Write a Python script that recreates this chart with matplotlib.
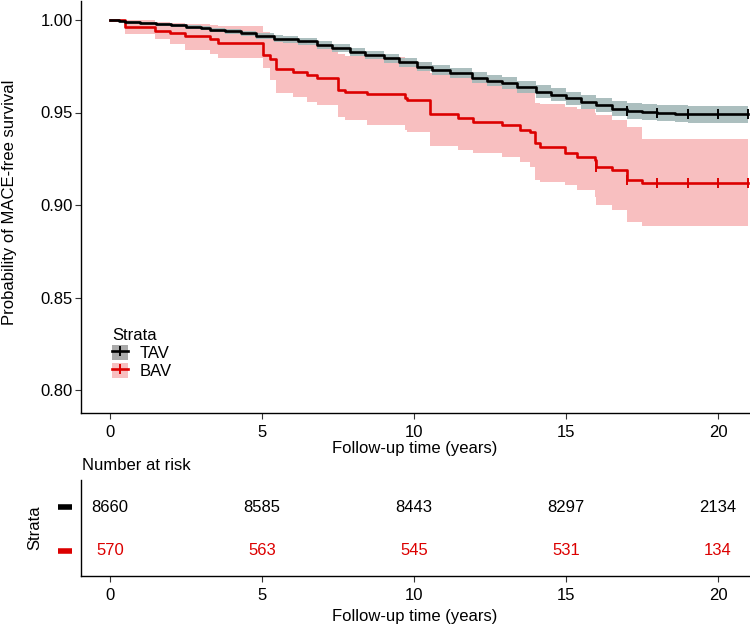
import numpy as np
import matplotlib
matplotlib.use("Agg")
import matplotlib.pyplot as plt
from matplotlib.patches import Patch
from matplotlib.lines import Line2D
from matplotlib.legend_handler import HandlerTuple
import matplotlib.transforms as mtransforms

plt.rcParams['font.family'] = ['Liberation Sans', 'DejaVu Sans']

# ---------------- data ----------------
end_time = 21.0

tav_time = [0, 0.3, 0.5, 1.0, 1.5, 2.0, 2.5, 3.0, 3.3, 3.8, 4.3, 4.8, 5.4, 5.7, 6.2, 6.8, 7.3,
            7.9, 8.4, 9.0, 9.5, 10.1, 10.6, 11.2, 11.9, 12.4, 12.9, 13.4, 14.0, 14.5, 15.0,
            15.5, 16.0, 16.5, 17.0, 17.5, 18.0, 18.6, 19.0]
tav_surv = [1.0, 0.9992, 0.9987, 0.9983, 0.9978, 0.9972, 0.9964, 0.9955, 0.9946, 0.9938, 0.9928,
            0.9915, 0.990, 0.9895, 0.9885, 0.9865, 0.9848, 0.9829, 0.9812, 0.9793, 0.9772,
            0.9748, 0.973, 0.9712, 0.9688, 0.9672, 0.9658, 0.9638, 0.9613, 0.9595, 0.9577,
            0.9558, 0.954, 0.952, 0.9508, 0.9502, 0.9498, 0.9493, 0.949]
tav_lower = [1.0, 0.9988, 0.9981, 0.9976, 0.997, 0.9963, 0.9954, 0.9944, 0.9934, 0.9925, 0.9914,
             0.99, 0.9883, 0.9877, 0.9866, 0.9845, 0.9827, 0.9807, 0.9789, 0.9769, 0.9747,
             0.9722, 0.9703, 0.9684, 0.9658, 0.9641, 0.9626, 0.9605, 0.9579, 0.956, 0.9541,
             0.9521, 0.9502, 0.948, 0.9467, 0.9459, 0.9454, 0.9448, 0.9444]
tav_upper = [1.0, 0.9996, 0.9993, 0.999, 0.9986, 0.9981, 0.9974, 0.9966, 0.9958, 0.9951, 0.9942,
             0.993, 0.9917, 0.9913, 0.9904, 0.9885, 0.9869, 0.9851, 0.9835, 0.9817, 0.9797,
             0.9774, 0.9757, 0.974, 0.9718, 0.9703, 0.969, 0.9671, 0.9647, 0.963, 0.9613,
             0.9595, 0.9578, 0.956, 0.9549, 0.9545, 0.9542, 0.9538, 0.9536]
tav_censor = [17, 18, 19, 20, 21]

bav_time = [0, 0.5, 1.48, 1.97, 2.47, 3.29, 3.55, 5.04, 5.26, 5.45, 6.01, 6.47, 6.80, 7.51, 7.73,
            8.44, 9.70, 9.76, 10.53, 11.46, 11.95, 12.88, 13.49, 13.82, 13.98, 14.14, 14.97,
            15.35, 15.95, 16.0, 16.5, 17.0, 17.49]
bav_surv = [1.0, 0.9964, 0.994, 0.9928, 0.9914, 0.9896, 0.9877, 0.981, 0.9787, 0.9733, 0.9721,
            0.9703, 0.9685, 0.9622, 0.9613, 0.960, 0.9577, 0.9568, 0.949, 0.9469, 0.945,
            0.9432, 0.9405, 0.9396, 0.9333, 0.9312, 0.928, 0.9261, 0.9243, 0.9207, 0.9189,
            0.9135, 0.912]
bav_lower = [1.0, 0.9923, 0.9896, 0.9869, 0.9838, 0.9814, 0.9793, 0.9739, 0.9676, 0.9604, 0.9586,
             0.9559, 0.954, 0.9477, 0.9459, 0.9432, 0.9405, 0.9396, 0.932, 0.9297, 0.928,
             0.9261, 0.9234, 0.9207, 0.9135, 0.9125, 0.9108, 0.9081, 0.9045, 0.900, 0.8973,
             0.891, 0.8886]
bav_upper = [1.0, 1.0, 0.9991, 0.9985, 0.998, 0.9972, 0.9966, 0.9935, 0.992, 0.9895, 0.9885,
             0.9872, 0.986, 0.9815, 0.9808, 0.9798, 0.978, 0.9773, 0.9715, 0.970, 0.968,
             0.9645, 0.9635, 0.963, 0.955, 0.9545, 0.9532, 0.952, 0.9496, 0.9485, 0.946,
             0.9423, 0.9355]
bav_censor = [16, 17, 18, 19, 20, 21]

risk_times = [0, 5, 10, 15, 20]
tav_risk = [8660, 8585, 8443, 8297, 2134]
bav_risk = [570, 563, 545, 531, 134]

strata = ["TAV", "BAV"]
y_ticks = [0.80, 0.85, 0.90, 0.95, 1.00]
x_ticks = [0, 5, 10, 15, 20]

# ---------------- styles ----------------
W, H = 750, 629
BLACK = "#000000"
RED = "#DC0000"
GREY_BAND = "#A3B8B8"
PINK_BAND = "#F8BFC0"
FS = 12

fig = plt.figure(figsize=(W / 100, H / 100), dpi=100)


def frac_box(x0, y0, x1, y1):
    return [x0 / W, 1 - y1 / H, (x1 - x0) / W, (y1 - y0) / H]


MAIN_BOTTOM = 413
ax = fig.add_axes(frac_box(81, 1, 750, MAIN_BOTTOM))
axt = fig.add_axes(frac_box(81, 480, 750, 576))


def ext(t, v):
    return np.append(np.asarray(t, float), end_time), np.append(np.asarray(v, float), v[-1])


def value_at(times, vals, q):
    idx = np.searchsorted(np.asarray(times), np.asarray(q, float), side='right') - 1
    return np.asarray(vals)[idx]


# bands
bt, bl = ext(bav_time, bav_lower)
_, bu = ext(bav_time, bav_upper)
ax.fill_between(bt, bl, bu, step='post', color=PINK_BAND, lw=0, zorder=1)
tt, tl = ext(tav_time, tav_lower)
_, tu = ext(tav_time, tav_upper)
ax.fill_between(tt, tl, tu, step='post', color=GREY_BAND, alpha=0.9, lw=0, zorder=2)

# curves
bt2, bs2 = ext(bav_time, bav_surv)
ax.plot(bt2, bs2, drawstyle='steps-post', color=RED, lw=1.9, zorder=3)
tt2, ts2 = ext(tav_time, tav_surv)
ax.plot(tt2, ts2, drawstyle='steps-post', color=BLACK, lw=1.9, zorder=4)

# censor marks
ax.plot(bav_censor, value_at(bav_time, bav_surv, bav_censor), ls='none', marker='|',
        ms=7, mew=1.4, color=RED, zorder=5, clip_on=False)
ax.plot(tav_censor, value_at(tav_time, tav_surv, tav_censor), ls='none', marker='|',
        ms=7, mew=1.4, color=BLACK, zorder=6, clip_on=False)

ax.set_xlim(-0.95, 21.05)
ax.set_ylim(1 - (MAIN_BOTTOM - 20) / 1850, 1 + 19 / 1850)
ax.set_xticks(x_ticks)
ax.set_yticks(y_ticks)
ax.set_yticklabels([f"{v:.2f}" for v in y_ticks])
ax.tick_params(labelsize=FS, length=4, width=0.8, color="#333333", pad=2)
ax.tick_params(axis='x', pad=4.5)
for s in ["top", "right"]:
    ax.spines[s].set_visible(False)
for s in ["left", "bottom"]:
    ax.spines[s].set_linewidth(1.0)

# legend
h_tav = (Patch(facecolor="#AAAAAA", edgecolor='none'),
         Line2D([], [], color=BLACK, lw=1.9, marker='|', ms=7, mew=1.4))
h_bav = (Patch(facecolor=PINK_BAND, edgecolor='none'),
         Line2D([], [], color=RED, lw=1.9, marker='|', ms=7, mew=1.4))
ax_h = MAIN_BOTTOM - 1
leg = ax.legend([h_tav, h_bav], strata, handler_map={tuple: HandlerTuple(ndivide=1, pad=0)},
                title="Strata", loc='upper left',
                bbox_to_anchor=((112 - 81) / 669, (MAIN_BOTTOM - 328) / ax_h),
                frameon=False, fontsize=FS, title_fontsize=FS, borderpad=0, borderaxespad=0,
                handlelength=0.95, handleheight=1.05, handletextpad=0.7, labelspacing=0.1)
leg._legend_box.align = "left"

# risk table
for row, (vals, col) in enumerate([(tav_risk, BLACK), (bav_risk, RED)]):
    yrow = 1 - row
    for t, v in zip(risk_times, vals):
        axt.text(t, yrow, str(v), ha='center', va='center', fontsize=FS, color=col)
    trans = mtransforms.blended_transform_factory(axt.transAxes, axt.transData)
    axt.plot([-0.034, -0.0135], [yrow, yrow], transform=trans, color=col, lw=4,
             solid_capstyle='butt', clip_on=False)

axt.set_xlim(-0.95, 21.05)
axt.set_ylim(-0.58, 1.628)
axt.set_xticks(x_ticks)
axt.set_yticks([])
axt.tick_params(labelsize=FS, length=4, width=0.8, color="#333333", pad=5)
for s in ["top", "right"]:
    axt.spines[s].set_visible(False)
for s in ["left", "bottom"]:
    axt.spines[s].set_linewidth(1.0)

# titles
fig.text(10 / W, 1 - 202 / H, "Probability of MACE-free survival", rotation=90,
         ha='center', va='center', fontsize=FS)
fig.text(415 / W, 1 - 448 / H, "Follow-up time (years)", ha='center', va='center', fontsize=FS)
fig.text(82 / W, 1 - 465 / H, "Number at risk", ha='left', va='center', fontsize=FS)
fig.text(35 / W, 1 - 528 / H, "Strata", rotation=90, ha='center', va='center', fontsize=FS)
fig.text(415 / W, 1 - 616 / H, "Follow-up time (years)", ha='center', va='center', fontsize=FS)

fig.savefig("out.png", dpi=100)
